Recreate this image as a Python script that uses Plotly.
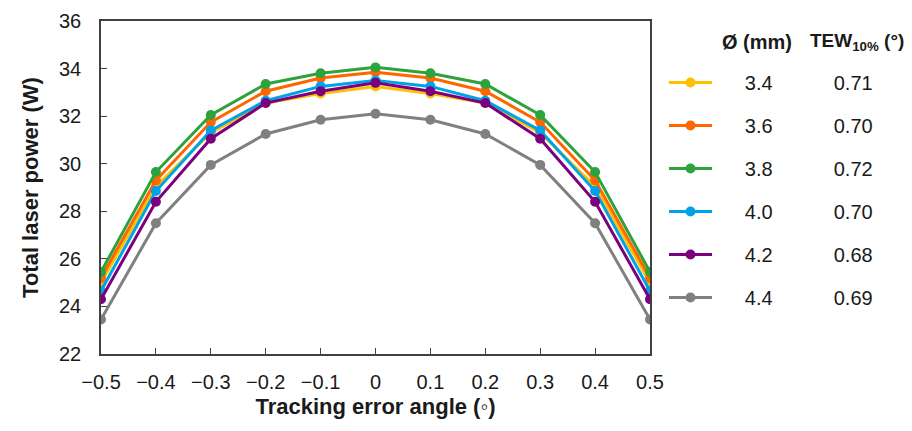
import plotly.graph_objects as go

# Tracking error angle (degrees)
angles = [-0.5, -0.4, -0.3, -0.2, -0.1, 0.0, 0.1, 0.2, 0.3, 0.4, 0.5]

# Nozzle diameters (mm) and the corresponding TEW at 10 % power drop (degrees)
diameters = ["3.4", "3.6", "3.8", "4.0", "4.2", "4.4"]
tew10 = ["0.71", "0.70", "0.72", "0.70", "0.68", "0.69"]

# Total laser power (W) per diameter
power_34 = [25.0, 29.05, 31.3, 32.55, 32.95, 33.25, 32.95, 32.55, 31.3, 29.05, 25.0]
power_36 = [25.2, 29.3, 31.75, 33.05, 33.6, 33.85, 33.6, 33.05, 31.75, 29.3, 25.2]
power_38 = [25.45, 29.65, 32.05, 33.35, 33.8, 34.05, 33.8, 33.35, 32.05, 29.65, 25.45]
power_40 = [24.65, 28.85, 31.4, 32.65, 33.25, 33.5, 33.25, 32.65, 31.4, 28.85, 24.65]
power_42 = [24.3, 28.4, 31.05, 32.55, 33.05, 33.4, 33.05, 32.55, 31.05, 28.4, 24.3]
power_44 = [23.45, 27.5, 29.95, 31.25, 31.85, 32.1, 31.85, 31.25, 29.95, 27.5, 23.45]

series = [power_34, power_36, power_38, power_40, power_42, power_44]
colors = ["#FFC000", "#FF6600", "#2CA33C", "#00A2E8", "#7B007F", "#808080"]

y_ticks = [22, 24, 26, 28, 30, 32, 34, 36]
x_ticks = [-0.5, -0.4, -0.3, -0.2, -0.1, 0.0, 0.1, 0.2, 0.3, 0.4, 0.5]

FONT = "Liberation Sans, Arial, sans-serif"
INK = "#1a1a1a"
NB = "\u00a0"

# plot area in pixels (used to place the column headers above the legend)
L, R, T, B = 101, 650, 21, 354
W, H = 912, 431


def px_x(px):
    return (px - L) / (R - L)


def px_y(py):
    return (B - py) / (B - T)


fig = go.Figure()
for d, t, ys, c in zip(diameters, tew10, series, colors):
    fig.add_trace(go.Scatter(
        x=angles, y=ys, mode="lines+markers",
        name=NB * 5 + d + NB * 11 + t,
        legendgroup=d,
        line=dict(color=c, width=3),
        marker=dict(color=c, size=10),
    ))

axis_common = dict(
    showline=True, linecolor="#404040", linewidth=1.5, mirror=True,
    ticks="inside", ticklen=6, tickwidth=1.2, tickcolor="#404040",
    showgrid=False, zeroline=False,
    tickfont=dict(family=FONT, size=20, color=INK),
)

fig.update_xaxes(
    range=[-0.5, 0.5], tickvals=x_ticks, ticklabelstandoff=9,
    title=dict(text="<b>Tracking error angle (◦)</b>",
               font=dict(family=FONT, size=22, color=INK), standoff=7),
    **axis_common,
)
fig.update_yaxes(
    range=[22, 36], tickvals=y_ticks, ticklabelstandoff=14,
    title=dict(text="<b>Total laser power (W)</b>",
               font=dict(family=FONT, size=22, color=INK), standoff=14),
    **axis_common,
)

# column headers of the legend table
fig.add_annotation(x=px_x(720), y=px_y(42), xref="paper", yref="paper",
                   text="<b>Ø (mm)</b>", showarrow=False,
                   xanchor="left", yanchor="middle",
                   font=dict(family=FONT, size=20, color=INK))
fig.add_annotation(x=px_x(808), y=px_y(42), xref="paper", yref="paper",
                   text="<b>TEW<sub>10%</sub> (°)</b>", showarrow=False,
                   xanchor="left", yanchor="middle",
                   font=dict(family=FONT, size=19, color=INK))

fig.update_layout(
    width=W, height=H,
    margin=dict(l=L, r=W - R, t=T, b=H - B, autoexpand=False),
    paper_bgcolor="white", plot_bgcolor="white",
    font=dict(family=FONT, color=INK),
    legend=dict(
        xref="container", yref="container",
        x=664 / W, y=1 - 63 / H, xanchor="left", yanchor="top",
        font=dict(family=FONT, size=20, color=INK),
        tracegroupgap=14,
        itemwidth=43,
        maxheight=400,
        bgcolor="rgba(0,0,0,0)",
    ),
)

fig.write_html("out.html")
